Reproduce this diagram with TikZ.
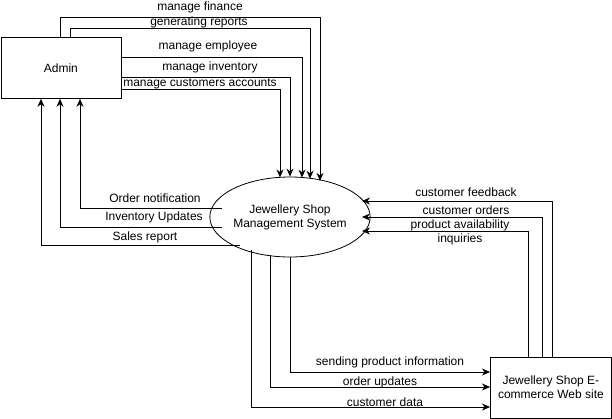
\documentclass[tikz,border=0pt]{standalone}
\usepackage{fontspec}
\setmainfont{Liberation Sans}
\usetikzlibrary{arrows.meta,calc,shapes.geometric}
\begin{document}
\begin{tikzpicture}[x=1pt,y=-1pt,
  font=\fontsize{12}{14}\selectfont,
  entity/.style={draw, line width=0.8pt, inner sep=0pt, anchor=north west, align=center},
  proc/.style={draw, ellipse, line width=0.8pt, inner sep=0pt, align=center},
  flow/.style={draw, line width=0.8pt, -{Stealth[length=8pt,width=7pt]}},
  lbl/.style={inner sep=0pt, align=center}]
\useasboundingbox (0,0) rectangle (612,418);
% nodes
\node[entity, minimum width=120pt, minimum height=61pt] (admin) at (0.5,37) {Admin};
\node[proc, minimum width=140pt, minimum height=80pt] (sys) at (290,217) {Jewellery Shop\\Management System};
\node[entity, minimum width=121pt, minimum height=60.5pt] (web) at (490,357) {Jewellery Shop E-\\commerce Web site};
% admin -> system
\draw[flow] (admin.north -| 60,0) -- (60,17) -- (320,17) -- ($(sys.center)+(30,-36.1)$);
\draw[flow] (admin.north -| 70,0) -- (70,28) -- (310,28) -- ($(sys.center)+(20,-38.3)$);
\draw[flow] (admin.east |- 0,57) -- (302,57) -- ($(sys.center)+(12,-39.4)$);
\draw[flow] (admin.east |- 0,77) -- (290,77) -- (sys.north);
\draw[flow] (admin.east |- 0,89) -- (280,89) -- ($(sys.center)+(-10,-39.6)$);
\node[lbl] at (200,7) {manage finance};
\node[lbl] at (199,22) {generating reports};
\node[lbl] at (208,46) {manage employee};
\node[lbl] at (210,67) {manage inventory};
\node[lbl] at (200,83.5) {manage customers accounts};
% system -> admin
\draw[flow] ($(sys.center)+(-68.2,-9)$) -- (80,208) -- (admin.south -| 80,0);
\draw[flow] ($(sys.center)+(-67.8,10)$) -- (60,227) -- (admin.south -| 60,0);
\draw[flow] ($(sys.center)+(-50,28)$) -- (41,245) -- (admin.south -| 41,0);
\node[lbl] at (155,198) {Order notification};
\node[lbl] at (154,217) {Inventory Updates};
\node[lbl] at (145,237) {Sales report};
% web -> system
\draw[flow] (web.north -| 552,0) -- (552,201) -- (362,201);
\draw[flow] (web.north -| 542,0) -- (542,217) -- (362,217);
\draw[flow] (web.north -| 528,0) -- (528,231) -- (362,231);
\node[lbl] at (466,192) {customer feedback};
\node[lbl] at (466,210) {customer orders};
\node[lbl] at (460,232) {product availability\\inquiries};
% system -> web
\draw[flow] (sys.south) -- (290,372) -- (web.west |- 0,372);
\draw[flow] ($(sys.center)+(-20,38.3)$) -- (270,387) -- (web.west |- 0,387);
\draw[flow] ($(sys.center)+(-39,33)$) -- (251,407) -- (web.west |- 0,407);
\node[lbl] at (390,362) {sending product information};
\node[lbl] at (380,382) {order updates};
\node[lbl] at (385,402) {customer data};
\end{tikzpicture}
\end{document}
